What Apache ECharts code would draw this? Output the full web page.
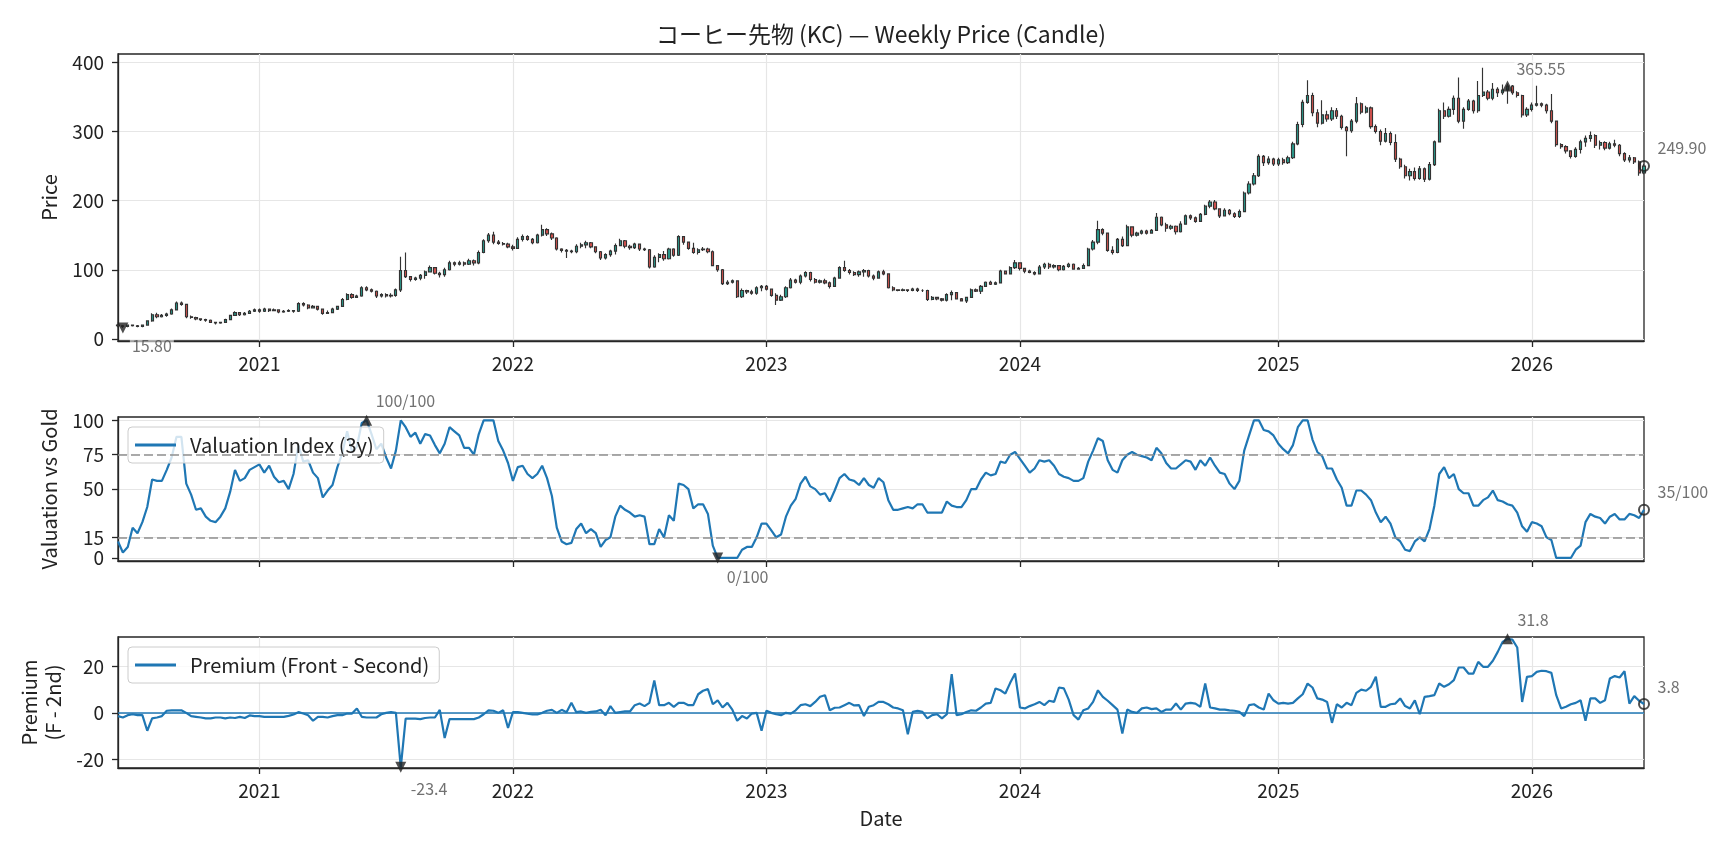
<!DOCTYPE html>
<html>
<head>
<meta charset="utf-8">
<title>KC weekly</title>
<script src="https://cdn.jsdelivr.net/npm/echarts@6/dist/echarts.min.js"></script>
<style>
html, body { margin: 0; padding: 0; background: #fff; }
#chart { width: 1728px; height: 849px; }
</style>
</head>
<body>
<div id="chart"></div>
<script>
// weekly bars, one every friday from the start date
var startDate = '2020-06-12';

var opens = [
  20, 19, 18, 20, 19, 18, 20, 26, 35, 32,
  34, 36, 42, 52, 50, 32, 31, 29, 28, 27,
  24, 23, 24, 28, 34, 38, 35, 37, 40, 42,
  40, 43, 41, 42, 39, 40, 41, 40, 51, 49,
  45, 47, 43, 37, 38, 43, 47, 57, 64, 60,
  62, 74, 71, 69, 62, 64, 62, 63, 71, 99,
  90, 86, 88, 92, 97, 103, 95, 93, 100, 110,
  108, 110, 108, 113, 110, 125, 142, 150, 140, 138,
  137, 133, 131, 144, 148, 144, 139, 150, 158, 152,
  146, 130, 128, 127, 126, 134, 136, 139, 133, 126,
  117, 122, 127, 135, 142, 134, 132, 137, 130, 129,
  104, 118, 122, 116, 130, 121, 148, 140, 131, 125,
  129, 130, 126, 106, 100, 80, 82, 84, 61, 70,
  68, 66, 74, 76, 72, 63, 56, 61, 74, 85,
  82, 91, 96, 86, 82, 84, 81, 76, 88, 103,
  99, 96, 93, 97, 99, 91, 88, 97, 94, 74,
  71, 70, 71, 70, 72, 70, 70, 57, 60, 58,
  56, 64, 67, 58, 55, 60, 71, 69, 76, 82,
  79, 81, 98, 94, 103, 110, 102, 98, 96, 94,
  104, 108, 104, 106, 100, 105, 108, 101, 102, 106,
  130, 140, 158, 153, 128, 125, 144, 135, 162, 150,
  153, 156, 153, 157, 176, 165, 160, 163, 155, 166,
  178, 175, 170, 180, 192, 198, 188, 178, 186, 181,
  177, 184, 211, 224, 236, 264, 255, 260, 253, 259,
  255, 262, 282, 310, 342, 352, 327, 312, 324, 318,
  330, 322, 306, 301, 315, 340, 328, 334, 307, 300,
  286, 297, 284, 260, 249, 236, 242, 232, 246, 231,
  252, 285, 330, 322, 332, 348, 315, 332, 344, 330,
  352, 357, 348, 361, 356, 360, 365.5, 356, 352, 324,
  332, 338, 340, 338, 330, 315, 281, 278, 272, 264,
  274, 285, 290, 294, 280, 284, 276, 282, 280, 268,
  259, 262, 256, 240
];

var closes = [
  19, 18, 20, 19, 18, 20, 26, 35, 32, 34,
  36, 42, 52, 50, 32, 31, 29, 28, 27, 24,
  23, 24, 28, 34, 38, 35, 37, 40, 42, 40,
  43, 41, 42, 39, 40, 41, 40, 51, 49, 45,
  47, 43, 37, 38, 43, 47, 57, 64, 60, 62,
  74, 71, 69, 62, 64, 62, 63, 71, 99, 90,
  86, 88, 92, 97, 103, 95, 93, 100, 110, 108,
  110, 108, 113, 110, 125, 142, 150, 140, 138, 137,
  133, 131, 144, 148, 144, 139, 150, 158, 152, 146,
  130, 128, 127, 126, 134, 136, 139, 133, 126, 117,
  122, 127, 135, 142, 134, 132, 137, 130, 129, 104,
  118, 122, 116, 130, 121, 148, 140, 131, 125, 129,
  130, 126, 106, 100, 80, 82, 84, 61, 70, 68,
  66, 74, 76, 72, 63, 56, 61, 74, 85, 82,
  91, 96, 86, 82, 84, 81, 76, 88, 103, 99,
  96, 93, 97, 99, 91, 88, 97, 94, 74, 71,
  70, 71, 70, 72, 70, 70, 57, 60, 58, 56,
  64, 67, 58, 55, 60, 71, 69, 76, 82, 79,
  81, 98, 94, 103, 110, 102, 98, 96, 94, 104,
  108, 104, 106, 100, 105, 108, 101, 102, 106, 130,
  140, 158, 153, 128, 125, 144, 135, 162, 150, 153,
  156, 153, 157, 176, 165, 160, 163, 155, 166, 178,
  175, 170, 180, 192, 198, 188, 178, 186, 181, 177,
  184, 211, 224, 236, 264, 255, 260, 253, 259, 255,
  262, 282, 310, 342, 352, 327, 312, 324, 318, 330,
  322, 306, 301, 315, 340, 328, 334, 307, 300, 286,
  297, 284, 260, 249, 236, 242, 232, 246, 231, 252,
  285, 330, 322, 332, 348, 315, 332, 344, 330, 352,
  357, 348, 361, 356, 360, 365.55, 356, 352, 324, 332,
  338, 340, 338, 330, 315, 281, 278, 272, 264, 274,
  285, 290, 294, 280, 284, 276, 282, 280, 268, 259,
  262, 256, 240, 249.9
];

var highs = [
  22, 20, 21, 21, 20, 21, 27, 37, 38, 36,
  38, 44, 54, 54, 51, 34, 32, 30, 29, 28,
  25, 25, 29, 35, 40, 39, 39, 42, 44, 44,
  45, 44, 44, 43, 42, 43, 42, 53, 53, 50,
  49, 48, 44, 41, 45, 48, 59, 66, 66, 64,
  76, 76, 73, 70, 66, 66, 66, 73, 119, 125,
  91, 90, 94, 99, 106, 104, 97, 103, 113, 112,
  113, 112, 116, 115, 128, 144, 153, 155, 143, 140,
  139, 136, 147, 151, 150, 146, 152, 165, 160, 154,
  147, 131, 130, 129, 137, 139, 142, 140, 134, 127,
  124, 129, 138, 145, 143, 136, 139, 138, 132, 130,
  121, 124, 127, 132, 131, 150, 149, 141, 139, 131,
  133, 132, 128, 107, 101, 85, 86, 85, 73, 71,
  71, 76, 78, 78, 73, 66, 64, 76, 88, 87,
  93, 98, 97, 88, 86, 87, 83, 90, 105, 113,
  101, 98, 99, 101, 100, 93, 99, 100, 95, 76,
  72, 73, 72, 74, 74, 72, 71, 62, 61, 59,
  66, 70, 68, 59, 61, 73, 73, 78, 83, 84,
  83, 100, 99, 105, 114, 111, 103, 100, 98, 107,
  110, 110, 108, 107, 107, 110, 109, 104, 109, 132,
  143, 171, 160, 154, 134, 146, 148, 165, 163, 155,
  158, 158, 159, 182, 177, 168, 165, 164, 170, 180,
  180, 177, 182, 194, 201, 201, 189, 189, 188, 183,
  187, 213, 228, 240, 267, 266, 264, 262, 262, 262,
  265, 285, 314, 346, 374, 356, 332, 345, 330, 335,
  334, 324, 308, 318, 350, 342, 337, 336, 310, 303,
  305, 300, 296, 262, 252, 246, 248, 250, 248, 256,
  287, 333, 342, 336, 352, 378, 335, 347, 346, 373,
  392, 360, 370, 364, 368, 369, 367, 358, 353, 335,
  342, 366, 342, 340, 354, 316, 283, 280, 273, 277,
  288, 294, 300, 296, 287, 286, 285, 288, 282, 270,
  266, 263, 258, 253
];

var lows = [
  17, 15.8, 17, 18, 17, 17, 19, 25, 30, 31,
  32, 35, 41, 48, 30, 29, 27, 26, 25, 23,
  21, 22, 23, 27, 33, 33, 34, 36, 39, 38,
  39, 39, 40, 37, 38, 39, 38, 39, 47, 43,
  44, 41, 35, 36, 37, 42, 46, 56, 58, 59,
  61, 69, 67, 59, 60, 60, 60, 61, 68, 88,
  83, 84, 85, 87, 96, 93, 89, 90, 99, 105,
  106, 105, 107, 106, 108, 124, 139, 137, 136, 135,
  131, 128, 130, 141, 142, 137, 138, 148, 149, 143,
  128, 125, 117, 124, 124, 131, 131, 131, 124, 114,
  115, 119, 122, 134, 131, 129, 130, 127, 127, 102,
  103, 111, 113, 115, 119, 120, 136, 129, 123, 122,
  127, 124, 105, 97, 78, 78, 80, 59, 59, 65,
  64, 64, 69, 70, 61, 49, 55, 59, 73, 80,
  79, 89, 83, 80, 80, 79, 73, 75, 87, 97,
  93, 91, 90, 90, 89, 85, 87, 92, 73, 69,
  69, 69, 68, 69, 68, 68, 55, 56, 56, 54,
  54, 56, 57, 54, 52, 60, 68, 65, 76, 78,
  78, 80, 93, 93, 101, 99, 95, 95, 92, 93,
  101, 101, 102, 98, 99, 103, 100, 100, 102, 105,
  128, 137, 150, 126, 122, 124, 133, 134, 147, 148,
  151, 151, 152, 156, 163, 155, 158, 151, 154, 165,
  172, 168, 169, 179, 189, 186, 175, 177, 179, 175,
  175, 183, 209, 222, 234, 250, 252, 250, 250, 252,
  253, 260, 280, 306, 340, 322, 306, 310, 314, 315,
  318, 303, 264, 298, 312, 325, 326, 304, 297, 280,
  284, 280, 256, 246, 232, 229, 229, 230, 227, 229,
  250, 284, 318, 320, 324, 312, 304, 330, 326, 327,
  350, 345, 345, 350, 353, 340, 353, 349, 320, 321,
  329, 336, 335, 326, 312, 278, 275, 268, 261, 262,
  268, 278, 285, 276, 274, 273, 274, 277, 264, 256,
  255, 253, 236, 238
];

// valuation index vs gold, 0-100
var valuation = [
  12, 4, 8, 22, 18, 26, 37, 57, 56, 56,
  64, 73, 88, 88, 54, 46, 35, 36, 30, 27,
  26, 30, 36, 48, 64, 56, 58, 64, 66, 68,
  62, 67, 59, 55, 56, 50, 61, 82, 70, 71,
  62, 58, 44, 49, 53, 66, 76, 92, 77, 81,
  98, 100, 90, 79, 83, 73, 65, 78, 100, 95,
  88, 91, 83, 90, 89, 82, 76, 83, 95, 92,
  89, 80, 80, 75, 90, 100, 100, 100, 85, 78,
  69, 56, 66, 67, 61, 58, 61, 67, 58, 45,
  22, 12, 10, 11, 21, 25, 18, 21, 18, 8,
  13, 15, 30, 38, 35, 33, 30, 31, 30, 10,
  10, 21, 15, 31, 27, 54, 53, 50, 36, 39,
  39, 32, 9, 0, 0, 0, 0, 0, 6, 8,
  8, 15, 25, 25, 20, 15, 17, 30, 38, 43,
  54, 59, 52, 50, 46, 47, 41, 49, 58, 61,
  57, 56, 53, 58, 53, 51, 58, 55, 42, 35,
  35, 36, 37, 36, 39, 39, 33, 33, 33, 33,
  41, 38, 37, 37, 42, 50, 50, 57, 62, 60,
  61, 70, 69, 75, 77, 72, 67, 62, 65, 71,
  70, 71, 67, 61, 59, 58, 56, 56, 58, 70,
  78, 87, 85, 71, 64, 62, 71, 75, 77, 75,
  74, 73, 71, 80, 76, 69, 65, 65, 68, 71,
  70, 64, 71, 67, 73, 67, 62, 61, 54, 50,
  56, 78, 89, 100, 100, 93, 92, 89, 83, 79,
  76, 82, 95, 100, 100, 86, 77, 74, 65, 65,
  57, 51, 38, 38, 49, 49, 46, 42, 33, 26,
  30, 25, 15, 12, 6, 5, 12, 15, 12, 21,
  38, 61, 66, 58, 61, 50, 47, 47, 38, 38,
  42, 44, 49, 42, 41, 39, 38, 33, 23, 19,
  26, 25, 23, 15, 13, 0, 0, 0, 0, 6,
  9, 26, 32, 30, 29, 25, 30, 32, 28, 28,
  32, 31, 29, 35
];

// front minus second month
var premium = [
  -1.4, -2.0, -1.0, -0.6, -1.0, -1.0, -7.7, -2.4, -2.0, -1.4,
  0.9, 1.1, 1.1, 1.1, 0, -1.4, -1.7, -2.0, -2.4, -2.4,
  -2.0, -2.0, -2.4, -2.0, -2.2, -1.7, -2.2, -1.1, -1.4, -1.4,
  -1.7, -1.7, -1.7, -1.7, -1.7, -1.3, -0.7, 0.3, -0.3, -1.0,
  -3.4, -1.7, -1.7, -2.0, -1.4, -1.0, -1.0, -0.3, -0.3, 1.9,
  -1.7, -2.0, -2.0, -2.0, -0.6, 0, 0.3, 0, -23.4, -2.5,
  -2.5, -2.5, -2.7, -2.2, -2.0, -2.0, 1.3, -10.8, -2.7, -2.7,
  -2.7, -2.7, -2.7, -2.7, -2.0, -0.6, 1.1, 0.9, 0, 1.1,
  -6.5, 0.3, 0.3, 0, -0.4, -0.7, -0.7, 0, 0.9, 1.3,
  0, 1.3, 0.3, 4.3, 0.3, 0.6, 0, 0.4, 0.6, 1.3,
  -1.0, 2.9, 0, 0.3, 0.6, 0.6, 3.3, 4.0, 2.9, 4.3,
  13.9, 3.3, 3.3, 4.3, 2.6, 4.3, 4.3, 3.3, 3.3, 8.0,
  9.5, 10.2, 3.7, 5.4, 2.3, 4.3, 1.4, -3.4, -1.4, -2.4,
  -0.3, 0, -7.7, 0.9, 0, -0.6, -1.0, 0, -0.3, 1.1,
  3.3, 3.7, 2.9, 4.7, 6.9, 7.6, 1.1, 2.2, 2.3, 3.3,
  4.3, 3.2, 3.3, -1.4, 2.6, 3.3, 4.7, 4.7, 3.7, 2.3,
  1.9, 1.1, -9.2, 0.4, 0.9, 0.4, -2.4, -1.0, -0.6, -2.4,
  -0.6, 16.6, -1.0, -0.6, 0.4, 1.1, 0.9, 2.3, 4.0, 4.3,
  10.5, 9.7, 8.3, 12.9, 16.9, 2.3, 1.9, 2.9, 3.7, 4.7,
  3.3, 5.2, 4.7, 10.9, 10.5, 5.7, -1.0, -2.9, 1.1, 1.9,
  4.7, 9.7, 6.9, 5.2, 3.3, 1.4, -8.9, 1.4, 0.4, 0,
  1.9, 2.3, 1.6, 1.9, 0.4, 1.4, 1.4, 4.0, 1.4, 4.0,
  4.3, 4.0, 2.6, 12.6, 2.3, 1.9, 1.4, 1.4, 1.1, 0.9,
  0.4, -1.4, 3.3, 3.7, 2.3, 1.4, 8.3, 5.4, 4.0, 4.3,
  4.0, 4.3, 6.2, 8.0, 12.6, 10.9, 6.2, 5.7, 4.7, -4.3,
  3.7, 2.3, 4.3, 3.3, 8.6, 10.0, 9.5, 11.2, 15.5, 2.6,
  2.6, 3.7, 4.0, 6.2, 2.9, 1.9, 5.4, -0.6, 6.9, 7.2,
  7.6, 12.6, 11.2, 12.3, 14.1, 19.5, 19.5, 16.9, 16.9, 21.9,
  19.8, 19.8, 22.4, 26.2, 30.5, 31.8, 31.5, 28.1, 4.7, 15.5,
  15.8, 17.6, 18.1, 17.9, 17.2, 7.6, 1.9, 2.6, 3.7, 4.3,
  5.4, -3.4, 6.2, 6.2, 4.3, 5.4, 14.8, 15.8, 15.2, 17.9,
  4.0, 7.2, 5.2, 3.8
];

var years = [2021, 2022, 2023, 2024, 2025, 2026];
var priceTicks = [0, 100, 200, 300, 400];
var valTicks = [0, 15, 50, 75, 100];
var premTicks = [-20, 0, 20];
var valBands = [15, 75];

var FONT = '"Noto Sans CJK JP", "Noto Sans", sans-serif';
var INK = '#262626';
var GRIDC = '#e6e6e6';
var BLUE = '#1f77b4';

// category dates
var dates = [];
var t0 = Date.parse(startDate + 'T00:00:00Z');
for (var i = 0; i < closes.length; i++) {
  dates.push(new Date(t0 + i * 7 * 864e5).toISOString().slice(0, 10));
}

// week closest to each new year gets the tick
var yearIdx = {};
years.forEach(function (y) {
  var t = Date.UTC(y, 0, 1), best = 0, bd = Infinity;
  for (var i = 0; i < dates.length; i++) {
    var d = Math.abs(Date.parse(dates[i] + 'T00:00:00Z') - t);
    if (d < bd) { bd = d; best = i; }
  }
  yearIdx[best] = y;
});
function isYear(i) { return yearIdx[i] !== undefined; }

var candles = opens.map(function (o, i) { return [o, closes[i], lows[i], highs[i]]; });

function argmin(a) { var k = 0; for (var i = 1; i < a.length; i++) if (a[i] < a[k]) k = i; return k; }
function argmax(a) { var k = 0; for (var i = 1; i < a.length; i++) if (a[i] > a[k]) k = i; return k; }
var last = closes.length - 1;

function xAxisFor(g, labels, name) {
  return {
    type: 'category', gridIndex: g, data: dates, boundaryGap: false,
    name: name || '', nameLocation: 'middle', nameGap: 40,
    nameTextStyle: { fontSize: 20, color: '#222', fontFamily: FONT },
    axisLine: { show: true, onZero: false, lineStyle: { color: INK, width: 1.3 } },
    axisTick: { show: true, interval: isYear, length: 6, lineStyle: { color: INK, width: 1.3 } },
    axisLabel: {
      show: labels, interval: isYear, margin: 13,
      formatter: function (v, i) { return String(yearIdx[i]); },
      fontSize: 19, color: '#222', fontFamily: FONT
    },
    splitLine: { show: true, interval: isYear, lineStyle: { color: GRIDC, width: 1.2 } }
  };
}

function yAxisFor(g, lo, hi, ticks, name, gap) {
  return {
    type: 'value', gridIndex: g, min: lo, max: hi,
    name: name, nameLocation: 'middle', nameRotate: 90, nameGap: gap,
    nameTextStyle: { fontSize: 20, color: '#222', fontFamily: FONT, lineHeight: 24 },
    axisLine: { show: true, lineStyle: { color: INK, width: 1.3 } },
    axisTick: { show: true, customValues: ticks, length: 6, lineStyle: { color: INK, width: 1.3 } },
    axisLabel: { customValues: ticks, margin: 14, fontSize: 19, color: '#222', fontFamily: FONT },
    splitLine: { show: true, lineStyle: { color: GRIDC, width: 1.2 } }
  };
}

// small annotated marker: 'v' down triangle, '^' up triangle, 'o' hollow circle
function marker(g, x, y, kind, text, dx, dy) {
  var s = 11;
  return {
    type: 'scatter', xAxisIndex: g, yAxisIndex: g, clip: false, silent: true, z: 6,
    symbol: kind === 'o' ? 'circle' : 'triangle',
    symbolRotate: kind === 'v' ? 180 : 0,
    symbolSize: kind === 'o' ? 10 : s,
    itemStyle: kind === 'o'
      ? { color: 'rgba(0,0,0,0)', borderColor: '#222', borderWidth: 2 }
      : { color: '#222' },
    label: {
      show: true, formatter: text, position: [dx + s / 2, dy + s / 2],
      align: 'left', verticalAlign: 'middle',
      fontSize: 16, color: '#4d4d4d', fontFamily: FONT,
      backgroundColor: 'rgba(255,255,255,0.7)', padding: [1, 2]
    },
    data: [[x, y]]
  };
}

function legendAt(top, name) {
  return {
    data: [name], left: 128, top: top, orient: 'vertical', selectedMode: false,
    icon: 'rect', itemWidth: 41, itemHeight: 3,
    formatter: function (n) { return '  ' + n; },
    backgroundColor: 'rgba(255,255,255,0.8)', borderColor: '#cccccc', borderWidth: 1, borderRadius: 4,
    padding: [7, 10, 7, 7],
    textStyle: { fontSize: 20, color: '#222', fontFamily: FONT, lineHeight: 22 }
  };
}

var iLow = argmin(lows), iTop = argmax(closes);
var iVmax = argmax(valuation), iVmin = argmin(valuation);
var iPmax = argmax(premium), iPmin = argmin(premium);

var gridBase = { left: 118, right: 84, show: true, borderColor: INK, borderWidth: 1.3, backgroundColor: '#fff' };

var option = {
  animation: false,
  backgroundColor: '#fff',
  textStyle: { fontFamily: FONT },
  title: {
    text: 'コーヒー先物 (KC) — Weekly Price (Candle)',
    left: 881, top: 23, textAlign: 'center', padding: 0,
    textStyle: { fontSize: 23, fontWeight: 'normal', color: '#222', fontFamily: FONT }
  },
  legend: [legendAt(427, 'Valuation Index (3y)'), legendAt(647, 'Premium (Front - Second)')],
  grid: [
    Object.assign({ top: 54, height: 287 }, gridBase),
    Object.assign({ top: 417, height: 144 }, gridBase),
    Object.assign({ top: 637, height: 131 }, gridBase)
  ],
  xAxis: [xAxisFor(0, true), xAxisFor(1, false), xAxisFor(2, true, 'Date')],
  yAxis: [
    yAxisFor(0, -3, 412, priceTicks, 'Price', 51),
    yAxisFor(1, -2.2, 102.4, valTicks, 'Valuation vs Gold', 51),
    yAxisFor(2, -23.7, 32.6, premTicks, 'Premium\n(F - 2nd)', 48)
  ],
  series: [
    {
      type: 'candlestick', xAxisIndex: 0, yAxisIndex: 0, barWidth: 2.7,
      itemStyle: {
        color: '#2a9d8f', color0: '#d9534f',
        borderColor: '#333', borderColor0: '#333', borderColorDoji: '#333', borderWidth: 1.15
      },
      data: candles
    },
    marker(0, iLow, lows[iLow], 'v', lows[iLow].toFixed(2), 7, 18),
    marker(0, iTop, closes[iTop], '^', closes[iTop].toFixed(2), 7, -17),
    marker(0, last, closes[last], 'o', closes[last].toFixed(2), 12, -18),
    {
      name: 'Valuation Index (3y)', type: 'line', xAxisIndex: 1, yAxisIndex: 1,
      data: valuation, showSymbol: false, symbol: 'none', color: BLUE,
      lineStyle: { color: BLUE, width: 2.2 },
      markLine: {
        silent: true, symbol: 'none', label: { show: false },
        lineStyle: { color: '#8f8f8f', type: [9, 4], width: 1.5 },
        data: valBands.map(function (v) { return { yAxis: v }; })
      }
    },
    marker(1, iVmax, valuation[iVmax], '^', Math.round(valuation[iVmax]) + '/100', 7, -19),
    marker(1, iVmin, valuation[iVmin], 'v', Math.round(valuation[iVmin]) + '/100', 7, 19),
    marker(1, last, valuation[last], 'o', Math.round(valuation[last]) + '/100', 12, -17),
    {
      name: 'Premium (Front - Second)', type: 'line', xAxisIndex: 2, yAxisIndex: 2,
      data: premium, showSymbol: false, symbol: 'none', color: BLUE,
      lineStyle: { color: BLUE, width: 2.2 },
      markLine: {
        silent: true, symbol: 'none', label: { show: false },
        lineStyle: { color: BLUE, type: 'solid', width: 1.5 },
        data: [{ yAxis: 0 }]
      }
    },
    marker(2, iPmax, premium[iPmax], '^', premium[iPmax].toFixed(1), 8, -19),
    marker(2, iPmin, premium[iPmin], 'v', premium[iPmin].toFixed(1), 8, 22),
    marker(2, last, premium[last], 'o', premium[last].toFixed(1), 12, -17)
  ]
};

var chart = echarts.init(document.getElementById('chart'));
chart.setOption(option);

window.addEventListener('resize', function () {
  if (chart) {
    chart.resize();
  }
});
</script>
</body>
</html>
